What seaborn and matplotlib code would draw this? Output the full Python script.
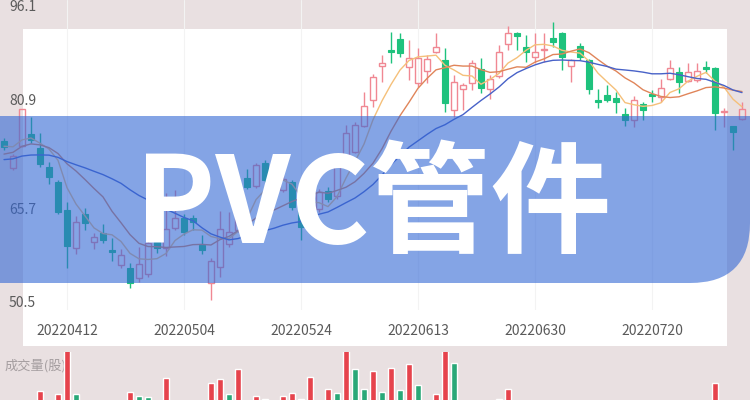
import numpy as np
import pandas as pd
import matplotlib
matplotlib.use('Agg')
import matplotlib.pyplot as plt
from matplotlib.path import Path
from matplotlib.patches import PathPatch, Rectangle
import seaborn as sns

# daily candles (hidden ones under the title are estimates)
opens = [75.40, 71.34, 74.67, 76.34, 74.37, 71.49, 69.37, 65.21, 59.58, 64.58,
         60.46, 61.78, 59.33, 57.12, 56.72, 55.16, 55.79, 60.55, 59.62, 62.50,
         64.00, 64.10, 60.06, 54.43, 56.87, 60.21, 62.30, 69.92, 68.74, 72.08,
         69.60, 68.20, 69.37, 65.70, 62.80, 65.30, 68.00, 67.20, 73.05, 73.79,
         77.57, 81.39, 86.40, 88.75, 90.32, 86.29, 83.85, 85.70, 88.41, 87.27,
         79.92, 82.96, 83.85, 85.90, 82.96, 84.92, 89.63, 91.20, 89.23, 87.67,
         88.70, 90.46, 91.29, 86.39, 89.33, 87.27, 81.39, 82.13, 81.64, 79.33,
         78.45, 80.80, 82.27, 81.79, 84.43, 85.55, 84.23, 84.40, 86.20, 86.05,
         79.60, 77.57, 78.60]
highs = [75.80, 73.40, 80.10, 78.93, 76.49, 72.31, 69.62, 66.43, 64.33, 65.46,
         61.87, 63.15, 61.05, 59.47, 57.37, 59.81, 61.50, 62.00, 67.70, 68.10,
         64.60, 64.50, 61.50, 58.10, 65.11, 64.90, 69.50, 71.20, 72.10, 72.60,
         70.20, 70.30, 69.60, 67.90, 66.00, 68.30, 68.60, 73.30, 77.71, 78.15,
         82.60, 85.20, 88.00, 91.44, 91.20, 90.22, 89.00, 88.00, 91.20, 89.00,
         85.07, 83.85, 87.27, 87.50, 85.07, 89.48, 92.28, 91.44, 90.95, 91.20,
         91.20, 92.91, 91.40, 87.40, 89.82, 87.37, 82.96, 83.60, 82.61, 80.17,
         81.98, 81.14, 82.86, 84.43, 87.27, 86.29, 86.88, 86.88, 87.17, 86.29,
         80.17, 77.60, 81.10]
lows = [74.00, 71.10, 74.50, 75.02, 71.49, 68.99, 64.62, 56.63, 58.74, 62.27,
        59.43, 60.40, 57.75, 56.63, 53.69, 54.66, 55.40, 58.90, 58.40, 62.20,
        61.60, 62.20, 58.80, 51.97, 55.40, 59.81, 62.00, 68.30, 68.40, 69.40,
        67.90, 67.80, 65.20, 60.80, 62.40, 64.90, 66.40, 66.90, 72.90, 73.60,
        77.40, 80.40, 84.08, 86.79, 87.76, 84.33, 83.35, 83.85, 88.30, 79.67,
        78.93, 79.92, 82.86, 82.40, 81.49, 84.58, 88.75, 88.75, 87.02, 86.79,
        87.00, 89.23, 85.80, 84.08, 87.27, 82.27, 80.17, 81.14, 79.43, 77.57,
        77.47, 78.45, 81.14, 81.14, 84.33, 82.38, 84.08, 84.00, 85.30, 76.98,
        77.40, 74.00, 78.40]
closes = [74.43, 73.20, 80.07, 75.51, 71.98, 70.11, 64.96, 59.91, 63.49, 63.25,
          61.28, 60.80, 58.99, 58.59, 54.51, 57.27, 60.31, 59.58, 62.41, 64.00,
          62.00, 63.50, 59.33, 57.75, 62.37, 62.02, 68.80, 68.64, 71.83, 69.62,
          68.20, 69.80, 65.60, 62.75, 65.50, 67.80, 66.90, 72.90, 76.49, 77.71,
          80.51, 84.82, 86.80, 88.50, 88.35, 87.52, 87.52, 87.38, 89.14, 80.90,
          84.08, 83.60, 86.88, 83.10, 84.43, 88.50, 91.20, 90.85, 88.50, 88.50,
          88.85, 89.97, 87.67, 87.27, 87.67, 82.96, 81.10, 81.39, 81.14, 78.45,
          81.39, 79.92, 82.02, 83.11, 86.05, 84.08, 85.55, 85.60, 86.00, 79.52,
          79.70, 76.74, 80.00]
# closes before the first visible day, only used to seed the moving averages
hist_closes = [71.0, 71.8, 72.5, 71.6, 70.8, 71.5, 72.3, 73.0, 72.2, 71.4,
               70.6, 71.2, 72.0, 73.4, 74.2, 73.6, 75.0, 74.1, 75.8]

volumes = [15, 12, 17, 14, 29, 16, 26, 75, 26, 13, 11, 15, 10, 14, 28, 24, 23, 12, 42, 16,
           14, 13, 17, 37, 41, 26, 51, 15, 24, 21, 18, 24, 27, 21, 43, 17, 31, 27, 78, 51,
           31, 49, 28, 52, 30, 56, 35, 18, 26, 80, 57, 16, 15, 17, 13, 21, 31, 12, 10, 14,
           11, 16, 18, 9, 12, 17, 13, 10, 11, 15, 14, 9, 8, 12, 13, 10, 11, 12, 9, 37,
           14, 16, 12]
vol_up = [1, 1, 1, 1, 1, 1, 1, 1, 0, 1, 1, 1, 1, 1, 1, 0, 0, 1, 1, 1,
          1, 1, 1, 1, 1, 0, 1, 1, 1, 0, 1, 1, 1, 0, 1, 1, 1, 0, 1, 0,
          0, 1, 0, 1, 0, 1, 0, 1, 1, 1, 0, 1, 1, 1, 1, 1, 1, 1, 1, 1,
          1, 1, 1, 1, 1, 1, 1, 1, 1, 1, 1, 1, 1, 1, 1, 1, 1, 1, 1, 1,
          1, 1, 1]

tick_idx = [7, 20, 33, 46, 59, 72]
tick_labels = ['20220412', '20220504', '20220524', '20220613', '20220630', '20220720']
y_ticks = [96.1, 80.9, 65.7, 50.5]

UP = '#f08893'
DOWN = '#1ec27d'
VUP = '#e6434c'
VDOWN = '#2aa878'

sns.set_theme(style='white')
plt.rcParams['font.family'] = ['Noto Sans CJK SC', 'DejaVu Sans']

df = pd.DataFrame({'open': opens, 'high': highs, 'low': lows, 'close': closes})
df['i'] = np.arange(len(df))
full = pd.Series(hist_closes + closes)
for w in (5, 10, 20):
    df[f'ma{w}'] = full.rolling(w, min_periods=1).mean().iloc[len(hist_closes):].to_numpy()

fig = plt.figure(figsize=(7.5, 4), dpi=100)
fig.patch.set_facecolor('#e9e0e1')

# white panel behind the chart
bg = fig.add_axes([0, 0, 1, 1], zorder=0)
bg.set_xlim(0, 750)
bg.set_ylim(400, 0)
bg.axis('off')
bg.add_patch(Rectangle((23, 29), 704, 317, facecolor='white', edgecolor='none'))

# price chart
ax = fig.add_axes([0, 90 / 400, 1, 310 / 400], zorder=1)
ax.patch.set_alpha(0)
ax.set_xlim(-4 / 9, 746 / 9)
ax.set_ylim(50.5, 96.1)
ax.axis('off')

for t in tick_idx:
    ax.axvline(t, color='#f3f3f3', lw=0.8, zorder=0)

up = df[df['close'] >= df['open']]
dn = df[df['close'] < df['open']]
for part, col in ((up, UP), (dn, DOWN)):
    top = part[['open', 'close']].max(axis=1)
    bot = part[['open', 'close']].min(axis=1)
    ax.vlines(part['i'], top, part['high'], color=col, lw=1, zorder=3)
    ax.vlines(part['i'], part['low'], bot, color=col, lw=1, zorder=3)
ax.bar(up['i'], (up['close'] - up['open']).clip(lower=0.05), bottom=up['open'], width=0.62,
       facecolor='none', edgecolor=UP, linewidth=1, zorder=3)
ax.bar(dn['i'], dn['open'] - dn['close'], bottom=dn['close'], width=0.62,
       color=DOWN, edgecolor=DOWN, linewidth=0.8, zorder=3)

sns.lineplot(data=df, x='i', y='ma5', ax=ax, color='#f5c07a', lw=1, zorder=4)
sns.lineplot(data=df, x='i', y='ma10', ax=ax, color='#e0855a', lw=1, zorder=4)
sns.lineplot(data=df, x='i', y='ma20', ax=ax, color='#4862c8', lw=1, zorder=4)
ax.axis('off')

# y labels sit a little off their levels, as in the source image
y_nudge = {96.1: 0.0, 80.9: 0.3, 65.7: -0.5, 50.5: 0.0}
for v in y_ticks:
    va = 'top' if v == max(y_ticks) else ('bottom' if v == min(y_ticks) else 'center')
    ax.text(9 / 750, v + y_nudge[v], f'{v:.1f}', transform=ax.get_yaxis_transform(),
            ha='left', va=va, fontsize=10, color='#5a5a5a')
for t, lab in zip(tick_idx, tick_labels):
    ax.text(t, -21 / 310, lab, transform=ax.get_xaxis_transform(),
            ha='center', va='center', fontsize=10, color='#5a5a5a')

# volume strip
vax = fig.add_axes([0, 0, 1, 48 / 400], zorder=1)
vax.patch.set_alpha(0)
vax.set_xlim(-4 / 9, 746 / 9)
vax.set_ylim(20, 68)
vax.axis('off')
vax.text(5 / 750, 34 / 48, '成交量(股)', transform=vax.transAxes, ha='left', va='center',
         fontsize=9.5, color='#a59ea0', zorder=1)
vax.bar(df['i'], volumes, width=0.67, color=[VUP if u else VDOWN for u in vol_up], zorder=2)

# blue band and title on top
ov = fig.add_axes([0, 0, 1, 1], zorder=3)
ov.patch.set_alpha(0)
ov.set_xlim(0, 750)
ov.set_ylim(400, 0)
ov.axis('off')
band = Path([(0, 116), (750, 116), (750, 223), (750, 283), (690, 283), (0, 283), (0, 116)],
            [Path.MOVETO, Path.LINETO, Path.LINETO, Path.CURVE3, Path.CURVE3,
             Path.LINETO, Path.CLOSEPOLY])
ov.add_patch(PathPatch(band, facecolor='#3267d5', edgecolor='none', alpha=0.6))
ov.text(373, 243, 'PVC管件', ha='center', va='baseline', fontsize=87,
        fontweight='black', color='white')

fig.savefig('out.png', dpi=100, facecolor=fig.get_facecolor())
